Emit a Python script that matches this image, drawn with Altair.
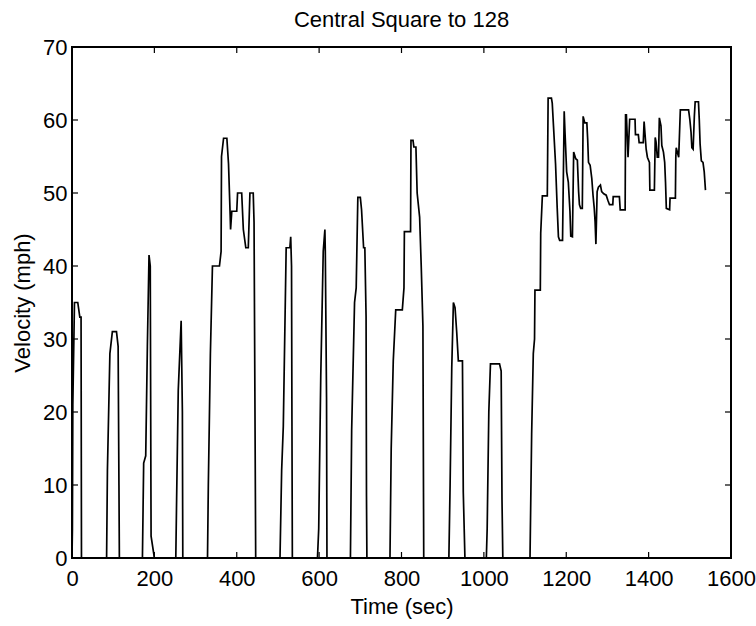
import altair as alt
import pandas as pd

# ---- data ----
time_s = [
    0, 1, 2, 6, 14, 19, 22, 23,
    84, 86, 92, 98, 108, 112, 114, 115,
    171, 174, 179, 183, 187, 190, 192, 200,
    252, 254, 258, 265, 268, 269,
    329, 331, 336, 341, 358, 362, 363, 368, 376, 380, 384, 385, 388, 400, 402, 412, 416, 422, 428, 432, 440, 442, 446,
    505, 509, 513, 520, 529, 531, 533, 534, 535,
    596, 599, 604, 610, 614, 615, 618, 619,
    676, 679, 686, 690, 694, 700, 703, 708, 711, 714, 715, 716,
    772, 775, 780, 786, 802, 806, 807, 822, 823, 828, 830, 835, 838, 844, 848, 852, 854,
    915, 918, 922, 926, 930, 934, 938, 948, 950, 954,
    1006, 1008, 1012, 1016, 1038, 1042, 1044, 1046,
    1112, 1116, 1120, 1123, 1124, 1137, 1138, 1142, 1154, 1156, 1164, 1166, 1169, 1174,
    1178, 1181, 1184, 1191, 1195, 1197, 1201, 1205, 1209, 1211, 1215, 1218, 1223, 1227,
    1230, 1232, 1235, 1239, 1241, 1245, 1250, 1252, 1254, 1258, 1262, 1265, 1268, 1270,
    1272, 1275, 1278, 1283, 1286, 1291, 1297, 1301, 1305, 1313, 1314, 1329, 1331, 1343,
    1344, 1346, 1350, 1354, 1367, 1368, 1375, 1377, 1387, 1389, 1394, 1397, 1402, 1403,
    1414, 1416, 1418, 1421, 1424, 1426, 1430, 1432, 1436, 1439, 1441, 1443, 1451, 1452,
    1465, 1466, 1467, 1473, 1477, 1497, 1500, 1503, 1505, 1508, 1511, 1513, 1521, 1523,
    1525, 1528, 1532, 1535, 1538,
]
velocity_mph = [
    0, 4, 21, 35, 35, 33, 33, 0,
    0, 12, 28, 31, 31, 29, 10, 0,
    0, 13, 14, 29, 41.5, 40, 3, 0,
    0, 8, 23, 32.5, 20, 0,
    0, 10, 28, 40, 40, 42, 55, 57.5, 57.5, 54, 47, 45, 47.5, 47.5, 50, 50, 45, 42.5, 42.5, 50, 50, 46, 0,
    0, 12, 18, 42.5, 42.5, 44, 40, 19, 0,
    0, 4, 25, 42, 45, 42, 22, 0,
    0, 17.5, 35, 37, 49.4, 49.4, 47.7, 42.5, 42.5, 33, 8.5, 0,
    0, 15, 27, 34, 34, 37, 44.7, 44.7, 57.2, 57.2, 56.3, 56.3, 50, 46.7, 39.8, 31.8, 0,
    0, 10, 26, 35, 34.3, 31, 27, 27, 9, 0,
    0, 4, 20, 26.6, 26.6, 25.6, 8, 0,
    0, 17, 28, 30, 36.7, 36.7, 44.5, 49.6, 49.6, 63, 63, 62.3, 59.2, 54,
    48, 44, 43.5, 43.5, 61.2, 58.3, 52.9, 51.5, 47.5, 44.1, 44, 55.6, 54.7, 54.5,
    50.2, 48.4, 47.9, 47.9, 60.5, 59.6, 59.6, 57.4, 54.2, 53.8, 52, 49.7, 47.9, 46.1,
    43, 50.2, 50.8, 51.1, 50.2, 49.9, 49.7, 49, 48.4, 48.4, 49.5, 49.5, 47.7, 47.7,
    60.7, 60.7, 54.9, 60.1, 60.1, 58, 58, 56.9, 56.9, 59.8, 56, 54.9, 54.2, 50.4,
    50.4, 57.6, 57, 54.9, 54.9, 60.3, 59.2, 56.5, 55.6, 54.2, 51.5, 47.9, 47.7, 49.3,
    49.3, 54.9, 56.2, 54.9, 61.4, 61.4, 60.1, 58.3, 56.2, 56, 60.5, 62.5, 62.5, 60,
    56.7, 54.4, 54.2, 52.9, 50.4,
]
x_ticks = [0, 200, 400, 600, 800, 1000, 1200, 1400, 1600]
y_ticks = [0, 10, 20, 30, 40, 50, 60, 70]

title_text = "Central Square to 128"
x_title = "Time (sec)"
y_title = "Velocity (mph)"

# ---- layout ----
W, H = 659, 511
FONT = "Liberation Sans"
FS = 22
TL = 6  # inward tick length

df = pd.DataFrame({"t": time_s, "v": velocity_mph, "order": range(len(time_s))})
xt = pd.DataFrame({"t": x_ticks})
yt = pd.DataFrame({"v": y_ticks})

xs = alt.Scale(domain=[0, 1600], nice=False, zero=False)
ys = alt.Scale(domain=[0, 70], nice=False, zero=False)
x_axis = alt.Axis(values=x_ticks, title=x_title, labelPadding=10, titlePadding=7,
                  format="d", labelFlush=False, labelOverlap=False)
y_axis = alt.Axis(values=y_ticks, title=y_title, labelPadding=5, titlePadding=8,
                  format="d", labelFlush=False, labelOverlap=False)

X = alt.X("t:Q", scale=xs, axis=x_axis)
Y = alt.Y("v:Q", scale=ys, axis=y_axis)

line = alt.Chart(df).mark_line(color="black", strokeWidth=1.7).encode(
    x=X, y=Y, order="order:Q",
)

bottom_ticks = alt.Chart(xt).mark_rule(color="black", strokeWidth=1.2).encode(
    x=X, y=alt.value(H), y2=alt.value(H - TL))
top_ticks = alt.Chart(xt).mark_rule(color="black", strokeWidth=1.2).encode(
    x=X, y=alt.value(0), y2=alt.value(TL))
left_ticks = alt.Chart(yt).mark_rule(color="black", strokeWidth=1.2).encode(
    y=Y, x=alt.value(0), x2=alt.value(TL))
right_ticks = alt.Chart(yt).mark_rule(color="black", strokeWidth=1.2).encode(
    y=Y, x=alt.value(W - TL), x2=alt.value(W))

chart = alt.layer(line, bottom_ticks, top_ticks, left_ticks, right_ticks).properties(
    width=W, height=H,
    background="white",
    title=alt.TitleParams(title_text, font=FONT, fontSize=FS, fontWeight="normal",
                          color="black", anchor="middle", offset=4),
    autosize=alt.AutoSizeParams(type="none"),
    padding={"left": 72, "top": 47, "right": 25, "bottom": 68},
).configure_view(
    stroke="black", strokeWidth=2
).configure_axis(
    grid=False, domain=False, ticks=False, tickSize=0,
    labelFont=FONT, labelFontSize=FS, labelColor="black",
    titleFont=FONT, titleFontSize=FS, titleFontWeight="normal", titleColor="black",
)

chart.save("out.html", embed_options={"renderer": "svg", "actions": False})
